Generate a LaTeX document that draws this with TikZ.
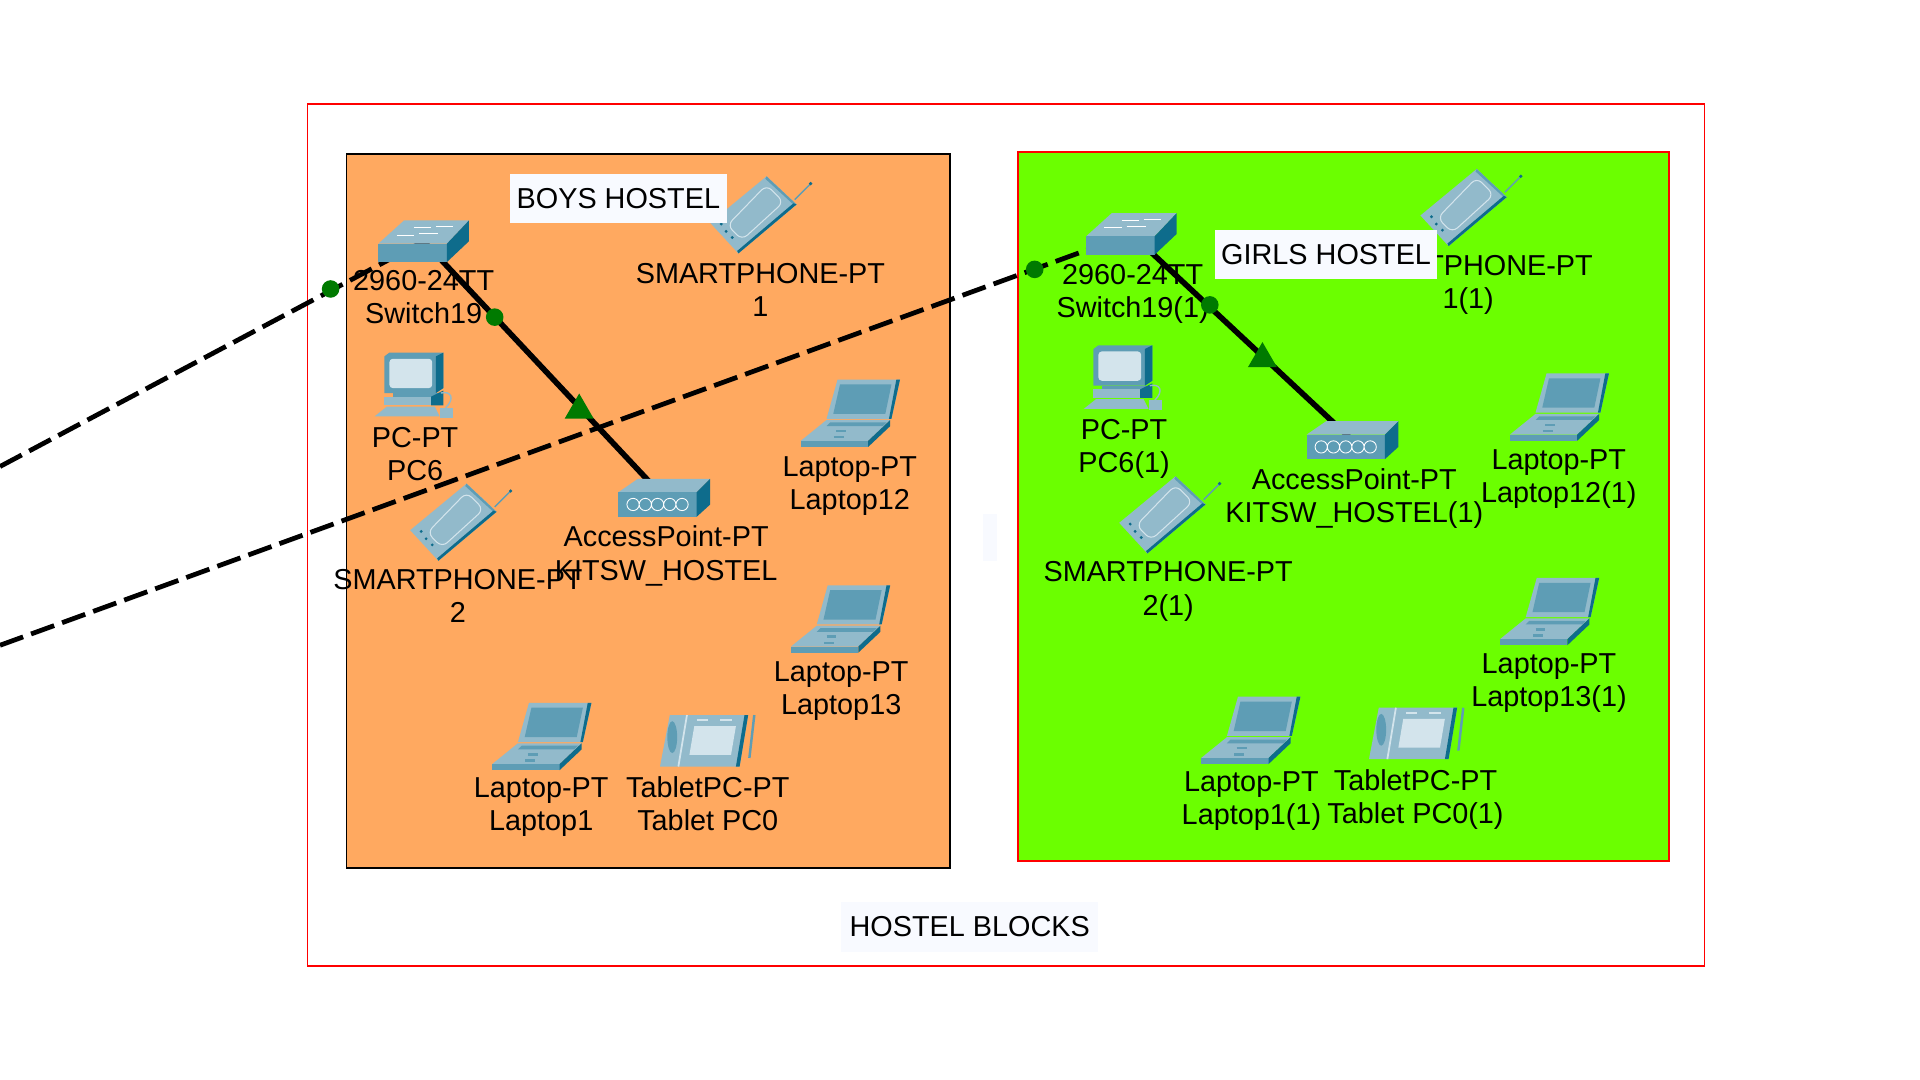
\documentclass[tikz,border=0pt]{standalone}
\usepackage{fontspec}
\usetikzlibrary{shapes.geometric}
\setmainfont{Liberation Sans}
\definecolor{boysfill}{HTML}{FFA960}
\definecolor{girlsfill}{HTML}{6BFF00}
\definecolor{tagfill}{HTML}{F8FAFF}
\definecolor{linkgreen}{HTML}{007A00}
\definecolor{iconlight}{HTML}{92BACB}
\definecolor{iconmid}{HTML}{5E9DB5}
\definecolor{icondark}{HTML}{0E6C8C}
\definecolor{iconscreen}{HTML}{D3E4EC}
\tikzset{
  lbl/.style={align=center,inner sep=0pt,font=\fontsize{8.2}{9.4}\selectfont},
  tag/.style={fill=tagfill,inner sep=0pt,font=\fontsize{8.2}{9.4}\selectfont},
  spot/.style={inner sep=0pt,minimum size=0pt},
  wire/.style={black,line width=1.6pt},
  fibre/.style={black,line width=1.35pt,dash pattern=on 7pt off 2.4pt},
  dot/.style={circle,fill=linkgreen,inner sep=0pt,minimum size=5pt},
  tri/.style={regular polygon,regular polygon sides=3,fill=linkgreen,inner sep=0pt,minimum size=9.5pt},
  switchicon/.pic={
    \fill[iconlight] (-37,2)--(19,2)--(37,-17)--(-16,-17)--cycle;
    \fill[iconmid] (-37,2) rectangle (19,17);
    \fill[icondark] (19,2)--(37,-17)--(37,0)--(19,17)--cycle;
    \draw[white,line width=.3pt] (-8,-11)--(6,-11) (10,-12)--(24,-12)
      (-22,-5)--(-8,-5) (-4,-6)--(12,-6);
  },
  apicon/.pic={
    \fill[iconlight] (-38,-5)--(26,-5)--(37,-16)--(-22,-16)--cycle;
    \fill[iconmid] (-38,-5) rectangle (26,15);
    \fill[icondark] (26,-5)--(37,-16)--(37,5)--(26,15)--cycle;
    \draw[white,line width=.25pt] (-26,5) circle (5) (-16,5) circle (5) (-6,5) circle (5)
      (4,5) circle (5) (14,5) circle (5);
  },
  pcicon/.pic={
    \fill[iconmid] (-24,-24)--(-20,-27)--(24,-27)--(24,2)--(18,6)--(-24,6)--cycle;
    \fill[icondark] (18,-24)--(24,-27)--(24,2)--(18,6)--cycle;
    \fill[iconscreen,rounded corners=1pt] (-20,-22) rectangle (15,2);
    \fill[iconmid] (-17,6) rectangle (20,10);
    \fill[iconlight] (-24,9) rectangle (24,16);
    \fill[icondark] (14,9)--(24,4)--(24,16)--(14,16)--cycle;
    \fill[iconlight] (-22,17)--(17,17)--(21,25)--(-32,25)--cycle;
    \fill[iconlight] (21,18) rectangle (32,26);
    \draw[iconlight,line width=.4pt] (26,18) .. controls (34,10) and (30,4) .. (22,6);
  },
  laptopicon/.pic={
    \fill[iconlight] (-11,-28)--(40,-28)--(33,4)--(-20,4)--cycle;
    \fill[iconmid] (-9,-24)--(33,-24)--(28,0)--(-14.5,0)--cycle;
    \fill[icondark] (37,-28)--(40,-28)--(33,4)--(31,4)--cycle;
    \fill[iconlight] (-20,5)--(32,5)--(14,22)--(-41,22)--cycle;
    \fill[iconmid] (-17,7)--(29,7)--(26,10)--(-20,10)--cycle;
    \fill[iconmid] (-41,22) rectangle (14,27);
    \fill[icondark] (14,22)--(32,5)--(32,10)--(14,27)--cycle;
    \draw[iconmid,line width=.7pt] (-12,14)--(-4,14) (-14,19)--(-6,19);
  },
  phoneicon/.pic={
    \fill[iconlight] (5,-31)--(29.5,-8)--(-18,32)--(-41,7)--cycle;
    \fill[iconmid] (5,-31)--(29.5,-8)--(28,-7)--(4,-29)--cycle;
    \fill[icondark] (29.5,-8)--(-18,32)--(-19,30)--(27,-9)--cycle;
    \draw[iconscreen,line width=.3pt,rounded corners=2pt] (5,-24)--(19,-10)--(-15,21)--(-27,9)--cycle;
    \draw[iconmid,line width=.4pt] (28,-12)--(41,-25);
    \fill[icondark] (41,-25) circle (1.5);
    \fill[icondark] (-32,8) circle (1.3) (-28,14) circle (1.3) (-23,19) circle (1.3);
  },
  tableticon/.pic={
    \fill[iconlight] (-31,-21)--(33,-21)--(26,21)--(-39,21)--cycle;
    \fill[icondark] (30,-21)--(33,-21)--(26,21)--(23,21)--cycle;
    \fill[iconmid] (-29,-3) ellipse (4 and 13);
    \draw[iconscreen,line width=.5pt] (-17,-21)--(-24,21);
    \fill[iconscreen] (-11,-12)--(23,-12)--(19,11.5)--(-15,11.5)--cycle;
    \draw[iconscreen,line width=.5pt] (-9,-17)--(0,-17) (10,-17)--(20,-17);
    \draw[iconmid,line width=.7pt] (38,-21)--(34,14);
  },
}
\begin{document}
\begin{tikzpicture}[x=0.122449mm,y=-0.122449mm]
\useasboundingbox (0,0) rectangle (1568,882);
% frames
\draw[red,line width=.45pt] (251,85) rectangle (1392,789);
\draw[black,fill=boysfill,line width=.5pt] (283,126) rectangle (776,709);
\draw[red,fill=girlsfill,line width=.55pt] (831,124) rectangle (1363,703);
\fill[tagfill] (803,420) rectangle (814,458);
% device positions
\node[spot] (sw19) at (346,197) {};
\node[spot] (ap) at (543,407) {};
\node[spot] (sw19r) at (924,191) {};
\node[spot] (apr) at (1105,360) {};
\coordinate (uplinka) at (0,381);
\coordinate (uplinkb) at (0,527);
% connectors
\draw[fibre] (uplinka) -- (sw19);
\draw[fibre] (uplinkb) -- (sw19r);
\draw[wire] (sw19) -- (ap);
\draw[wire] (sw19r) -- (apr);
% boys hostel
\pic at (sw19) {switchicon};
\pic at (ap) {apicon};
\pic at (621,175) {phoneicon};
\pic at (338,315) {pcicon};
\pic at (695,338) {laptopicon};
\pic at (376,426) {phoneicon};
\pic at (687,506) {laptopicon};
\pic at (443,602) {laptopicon};
\pic at (578,605) {tableticon};
\node[lbl] (sw19lbl) at (346,243) {2960-24TT\\Switch19};
\node[lbl] (phonealbl) at (621,237) {SMARTPHONE-PT\\1};
\node[lbl] (pclbl) at (339,371) {PC-PT\\PC6};
\node[lbl] (lapalbl) at (694,397) {Laptop-PT\\Laptop12};
\node[lbl] (aplbl) at (544,454) {AccessPoint-PT\\KITSW\_HOSTEL};
\node[lbl] (phoneblbl) at (374,487) {SMARTPHONE-PT\\2};
\node[lbl] (lapblbl) at (687,564) {Laptop-PT\\Laptop13};
\node[lbl] (lapclbl) at (442,659) {Laptop-PT\\Laptop1};
\node[lbl] (tablbl) at (578,656) {TabletPC-PT\\Tablet PC0};
% girls hostel
\pic at (sw19r) {switchicon};
\pic at (apr) {apicon};
\pic at (1201,169) {phoneicon};
\pic at (917,309) {pcicon};
\pic at (1274,333) {laptopicon};
\pic at (955,420) {phoneicon};
\pic at (1266,500) {laptopicon};
\pic at (1022,597) {laptopicon};
\pic at (1157,599) {tableticon};
\node[lbl] (sw19rlbl) at (925,240) {2960-24TT\\Switch19(1)};
\node[lbl] (phonearlbl) at (1199,233) {SMARTPHONE-PT\\1(1)};
\node[lbl] (pcrlbl) at (918,367) {PC-PT\\PC6(1)};
\node[lbl] (laparlbl) at (1273,391) {Laptop-PT\\Laptop12(1)};
\node[lbl] (aprlbl) at (1106,407) {AccessPoint-PT\\KITSW\_HOSTEL(1)};
\node[lbl] (phonebrlbl) at (954,483) {SMARTPHONE-PT\\2(1)};
\node[lbl] (lapbrlbl) at (1265,558) {Laptop-PT\\Laptop13(1)};
\node[lbl] (lapcrlbl) at (1022,654) {Laptop-PT\\Laptop1(1)};
\node[lbl] (tabrlbl) at (1156,653) {TabletPC-PT\\Tablet PC0(1)};
% link lights
\node[dot] (lighta) at (270,236) {};
\node[dot] (lightb) at (404,259) {};
\node[dot] (lightc) at (845,220) {};
\node[dot] (lightd) at (988,249) {};
\node[tri] (triab) at (473,335) {};
\node[tri] (tricd) at (1031,293) {};
% captions
\node[tag,minimum width=178*0.347pt,minimum height=40*0.347pt] (boystag) at (505,162) {BOYS HOSTEL};
\node[tag,minimum width=182*0.347pt,minimum height=40*0.347pt] (girlstag) at (1083,208) {GIRLS HOSTEL};
\node[tag,minimum width=211*0.347pt,minimum height=41*0.347pt] (blockstag) at (792,757) {HOSTEL BLOCKS};
\end{tikzpicture}
\end{document}
